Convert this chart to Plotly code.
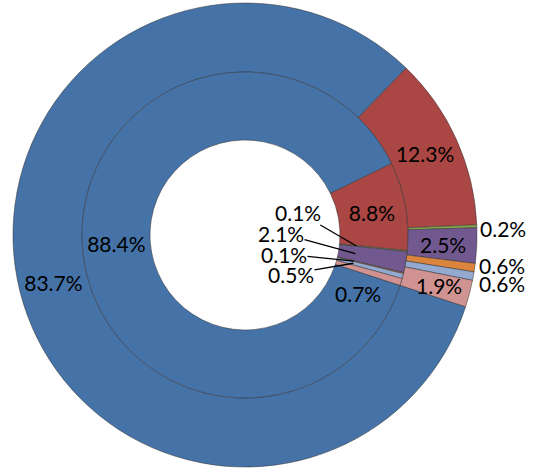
import math
import plotly.graph_objects as go

# ---- data ----
categories = ["Cat 1", "Cat 2", "Cat 3", "Cat 4", "Cat 5", "Cat 6", "Cat 7"]
outer_values = [83.7, 12.3, 0.2, 2.5, 0.6, 0.6, 1.9]
inner_values = [88.4, 8.8, 0.1, 2.1, 0.1, 0.5, 0.7]
colors = ["#4572A7", "#AA4643", "#89A54E", "#71588F", "#DB843D", "#93A9CF", "#D19392"]

# ---- geometry / style ----
W, H = 537, 473
CX, CY = 245, 235           # pie centre (px)
R_OUT, R_IN, R_HOLE = 232, 163, 95
ROTATION = 108
FONT = "Lato"
FS = 21

def fmt(v):
    return f"{v}%"

def mid_angles(values):
    tot = sum(values)
    out, cum = [], 0.0
    for v in values:
        out.append(ROTATION + (cum + v / 2) / tot * 360)
        cum += v
    return out

def pt(theta, r):
    t = math.radians(theta)
    return CX + r * math.sin(t), CY - r * math.cos(t)

def to_paper(px, py):
    return px / W, 1 - py / H

def dom(r):
    x0, x1 = (CX - r) / W, (CX + r) / W
    yc = H - CY
    y0, y1 = (yc - r) / H, (yc + r) / H
    return dict(x=[x0, x1], y=[y0, y1])

line_style = dict(color="rgba(50,50,50,0.85)", width=0.6)
tfont = dict(family=FONT, size=FS, color="black")

outer_text = [fmt(v) if v >= 10 else "" for v in outer_values]
inner_text = [fmt(v) if v >= 5 else "" for v in inner_values]

fig = go.Figure()
fig.add_trace(go.Pie(
    labels=categories, values=outer_values, sort=False, direction="clockwise",
    rotation=ROTATION, hole=R_IN / R_OUT, domain=dom(R_OUT),
    marker=dict(colors=colors, line=line_style),
    text=outer_text, textinfo="text", textposition="inside",
    insidetextorientation="horizontal", textfont=tfont,
    hoverinfo="label+value", showlegend=False,
))
fig.add_trace(go.Pie(
    labels=categories, values=inner_values, sort=False, direction="clockwise",
    rotation=ROTATION, hole=R_HOLE / R_IN, domain=dom(R_IN),
    marker=dict(colors=colors, line=line_style),
    text=inner_text, textinfo="text", textposition="inside",
    insidetextorientation="horizontal", textfont=tfont,
    hoverinfo="label+value", showlegend=False,
))

annotations = []
om = mid_angles(outer_values)
im = mid_angles(inner_values)

def label(px, py, text, xanchor="center", dx=0, dy=0):
    x, y = to_paper(px, py)
    return dict(x=x, y=y, xref="paper", yref="paper", text=text, showarrow=False,
                xanchor=xanchor, yanchor="middle", xshift=dx, yshift=-dy,
                borderpad=0, font=tfont)

# outer ring: small inside labels (index, radius)
for i, r in [(3, 198), (6, 200)]:
    px, py = pt(om[i], r)
    annotations.append(label(px, py, fmt(outer_values[i])))

# outer ring: outside labels (index, dx, dy offsets from rim point)
for i, dx, dy in [(2, 2, 2), (4, 3, -2), (5, 5, 7)]:
    px, py = pt(om[i], R_OUT)
    annotations.append(label(px, py, fmt(outer_values[i]), xanchor="left", dx=dx, dy=dy))

# inner ring: pink label shifted off the thin slice
px, py = pt(im[6], 129)
annotations.append(label(px, py, fmt(inner_values[6]), dx=-11, dy=21))

# inner ring: leader-line labels in the hole (index, label centre px)
for i, tx, ty in [(2, 298, 212), (3, 281, 233), (4, 284, 254), (5, 291, 274)]:
    px, py = pt(im[i], 112)
    x, y = to_paper(px, py)
    annotations.append(dict(x=x, y=y, xref="paper", yref="paper", text=fmt(inner_values[i]),
                            showarrow=True, arrowhead=0, arrowwidth=1.3, arrowcolor="black",
                            standoff=0, axref="pixel", ayref="pixel", borderpad=0,
                            ax=tx - px, ay=ty - py, font=tfont))

fig.update_layout(
    width=W, height=H, margin=dict(l=0, r=0, t=0, b=0),
    paper_bgcolor="white", plot_bgcolor="white", showlegend=False,
    annotations=annotations,
)

fig.write_html(
    "out.html",
    config={"displayModeBar": False},
    post_script="document.body.style.margin='0px';document.body.style.overflow='hidden';",
)
